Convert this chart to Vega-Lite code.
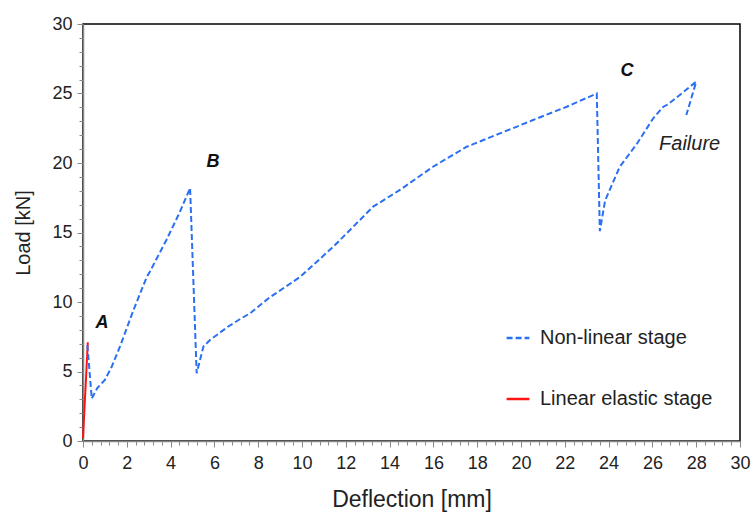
{
  "$schema": "https://vega.github.io/schema/vega-lite/v6.json",
  "width": 657,
  "height": 417,
  "autosize": {"type": "none"},
  "padding": {"left": 83, "top": 24, "right": 13, "bottom": 71},
  "background": "white",
  "config": {
    "font": "Liberation Sans",
    "view": {"stroke": "black", "strokeWidth": 1.5}
  },
  "datasets": {
    "curves": [
      {"series": "Linear elastic stage", "ord": 1, "d": 0.0, "load": 0.2},
      {"series": "Linear elastic stage", "ord": 2, "d": 0.22, "load": 7.1},
      {"series": "Non-linear stage", "ord": 1, "d": 0.2, "load": 6.9},
      {"series": "Non-linear stage", "ord": 2, "d": 0.4, "load": 3.05},
      {"series": "Non-linear stage", "ord": 3, "d": 0.65, "load": 3.8},
      {"series": "Non-linear stage", "ord": 4, "d": 1.0, "load": 4.4},
      {"series": "Non-linear stage", "ord": 5, "d": 1.3, "load": 5.3},
      {"series": "Non-linear stage", "ord": 6, "d": 1.69, "load": 6.8},
      {"series": "Non-linear stage", "ord": 7, "d": 2.3, "load": 9.4},
      {"series": "Non-linear stage", "ord": 8, "d": 2.91, "load": 11.8},
      {"series": "Non-linear stage", "ord": 9, "d": 3.06, "load": 12.2},
      {"series": "Non-linear stage", "ord": 10, "d": 3.82, "load": 14.5},
      {"series": "Non-linear stage", "ord": 11, "d": 4.4, "load": 16.4},
      {"series": "Non-linear stage", "ord": 12, "d": 4.89, "load": 18.2},
      {"series": "Non-linear stage", "ord": 13, "d": 5.19, "load": 4.87},
      {"series": "Non-linear stage", "ord": 14, "d": 5.5, "load": 6.8},
      {"series": "Non-linear stage", "ord": 15, "d": 5.8, "load": 7.27},
      {"series": "Non-linear stage", "ord": 16, "d": 6.6, "load": 8.2},
      {"series": "Non-linear stage", "ord": 17, "d": 7.2, "load": 8.8},
      {"series": "Non-linear stage", "ord": 18, "d": 7.63, "load": 9.19},
      {"series": "Non-linear stage", "ord": 19, "d": 8.5, "load": 10.3},
      {"series": "Non-linear stage", "ord": 20, "d": 9.91, "load": 11.8},
      {"series": "Non-linear stage", "ord": 21, "d": 11.43, "load": 13.98},
      {"series": "Non-linear stage", "ord": 22, "d": 13.25, "load": 16.86},
      {"series": "Non-linear stage", "ord": 23, "d": 14.47, "load": 18.06},
      {"series": "Non-linear stage", "ord": 24, "d": 15.98, "load": 19.73},
      {"series": "Non-linear stage", "ord": 25, "d": 17.52, "load": 21.17},
      {"series": "Non-linear stage", "ord": 26, "d": 19.04, "load": 22.13},
      {"series": "Non-linear stage", "ord": 27, "d": 20.55, "load": 23.09},
      {"series": "Non-linear stage", "ord": 28, "d": 22.09, "load": 24.05},
      {"series": "Non-linear stage", "ord": 29, "d": 23.46, "load": 25.0},
      {"series": "Non-linear stage", "ord": 30, "d": 23.6, "load": 15.1},
      {"series": "Non-linear stage", "ord": 31, "d": 23.84, "load": 17.3},
      {"series": "Non-linear stage", "ord": 32, "d": 24.5, "load": 19.7},
      {"series": "Non-linear stage", "ord": 33, "d": 25.3, "load": 21.4},
      {"series": "Non-linear stage", "ord": 34, "d": 26.03, "load": 23.2},
      {"series": "Non-linear stage", "ord": 35, "d": 26.5, "load": 24.05},
      {"series": "Non-linear stage", "ord": 36, "d": 26.7, "load": 24.2},
      {"series": "Non-linear stage", "ord": 37, "d": 28.0, "load": 25.85},
      {"series": "Non-linear stage", "ord": 38, "d": 27.55, "load": 23.45}
    ],
    "marks": [
      {"label": "A", "d": 0.87, "load": 8.5},
      {"label": "B", "d": 5.94, "load": 20.1},
      {"label": "C", "d": 24.84, "load": 26.6}
    ],
    "notes": [
      {"label": "Failure", "d": 27.7, "load": 21.4}
    ]
  },
  "layer": [
    {
      "data": {"name": "curves"},
      "mark": {"type": "line", "strokeWidth": 2},
      "encoding": {
        "x": {
          "field": "d", "type": "quantitative",
          "scale": {"domain": [0, 30], "nice": false},
          "axis": {
            "orient": "bottom", "title": "Deflection [mm]", "grid": false,
            "tickCount": 200,
            "values": [0,0.4,0.8,1.2,1.6,2,2.4,2.8,3.2,3.6,4,4.4,4.8,5.2,5.6,6,6.4,6.8,7.2,7.6,8,8.4,8.8,9.2,9.6,10,10.4,10.8,11.2,11.6,12,12.4,12.8,13.2,13.6,14,14.4,14.8,15.2,15.6,16,16.4,16.8,17.2,17.6,18,18.4,18.8,19.2,19.6,20,20.4,20.8,21.2,21.6,22,22.4,22.8,23.2,23.6,24,24.4,24.8,25.2,25.6,26,26.4,26.8,27.2,27.6,28,28.4,28.8,29.2,29.6,30],
            "labelExpr": "datum.value % 2 === 0 ? '' + datum.value : ''",
            "tickSize": {"condition": {"test": "datum.value % 2 === 0", "value": 6}, "value": 4},
            "domainColor": "#888", "domainWidth": 1.5, "tickColor": "#888", "tickWidth": 1,
            "labelFontSize": 18, "labelColor": "#222", "labelPadding": 7, "labelFlush": false, "labelOverlap": false,
            "titleFontSize": 23, "titleFontWeight": "normal", "titleColor": "#222", "titlePadding": 16
          }
        },
        "y": {
          "field": "load", "type": "quantitative",
          "scale": {"domain": [0, 30], "nice": false},
          "axis": {
            "orient": "left", "title": "Load [kN]", "grid": false,
            "tickCount": 100,
            "values": [0,1,2,3,4,5,6,7,8,9,10,11,12,13,14,15,16,17,18,19,20,21,22,23,24,25,26,27,28,29,30],
            "labelExpr": "datum.value % 5 === 0 ? '' + datum.value : ''",
            "tickSize": {"condition": {"test": "datum.value % 5 === 0", "value": 6}, "value": 4},
            "domainColor": "#888", "domainWidth": 1.5, "tickColor": "#888", "tickWidth": 1,
            "labelFontSize": 18, "labelColor": "#222", "labelPadding": 5, "labelFlush": false, "labelOverlap": false,
            "titleFontSize": 20, "titleFontWeight": "normal", "titleColor": "#222", "titlePadding": 18
          }
        },
        "order": {"field": "ord", "type": "quantitative"},
        "color": {
          "field": "series", "type": "nominal",
          "scale": {"domain": ["Non-linear stage", "Linear elastic stage"], "range": ["#2b6ff2", "#ff1414"]},
          "legend": {
            "title": null, "orient": "none", "legendX": 422, "legendY": 301,
            "symbolType": "stroke", "symbolSize": 520, "symbolStrokeWidth": 2.5,
            "labelFontSize": 20, "labelColor": "#222", "labelOffset": 9, "labelLimit": 400,
            "rowPadding": 38
          }
        },
        "strokeDash": {
          "field": "series", "type": "nominal",
          "scale": {"domain": ["Non-linear stage", "Linear elastic stage"], "range": [[6, 3], [1, 0]]},
          "legend": {
            "title": null, "orient": "none", "legendX": 422, "legendY": 301,
            "symbolType": "stroke", "symbolSize": 520, "symbolStrokeWidth": 2.5,
            "labelFontSize": 20, "labelColor": "#222", "labelOffset": 9, "labelLimit": 400,
            "rowPadding": 38
          }
        }
      }
    },
    {
      "data": {"name": "marks"},
      "mark": {"type": "text", "fontSize": 18, "fontWeight": "bold", "fontStyle": "italic", "color": "#111", "align": "center", "baseline": "middle"},
      "encoding": {
        "x": {"field": "d", "type": "quantitative"},
        "y": {"field": "load", "type": "quantitative"},
        "text": {"field": "label"}
      }
    },
    {
      "data": {"name": "notes"},
      "mark": {"type": "text", "fontSize": 20, "fontStyle": "italic", "color": "#222", "align": "center", "baseline": "middle"},
      "encoding": {
        "x": {"field": "d", "type": "quantitative"},
        "y": {"field": "load", "type": "quantitative"},
        "text": {"field": "label"}
      }
    }
  ]
}
